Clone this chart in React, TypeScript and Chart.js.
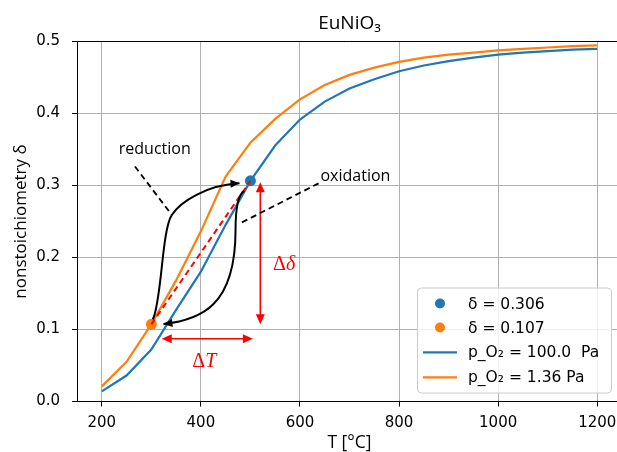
import React, { useEffect, useRef } from "react";
import { Chart, registerables } from "chart.js";

Chart.register(...registerables);

// ---- data ----
const temperatures = [200, 250, 300, 350, 400, 450, 500, 550, 600, 650, 700, 750, 800, 850, 900, 950, 1000, 1050, 1100, 1150, 1200];
const deltaP100 = [0.014, 0.036, 0.072, 0.127, 0.180, 0.245, 0.306, 0.355, 0.391, 0.416, 0.434, 0.447, 0.458, 0.466, 0.472, 0.477, 0.481, 0.484, 0.486, 0.488, 0.489];
const deltaP136 = [0.021, 0.055, 0.107, 0.168, 0.236, 0.312, 0.359, 0.392, 0.419, 0.439, 0.453, 0.463, 0.471, 0.477, 0.481, 0.484, 0.487, 0.489, 0.491, 0.493, 0.494];
const markedT = [500, 300];
const markedDelta = [0.306, 0.107];
const markedLabels = ["δ = 0.306", "δ = 0.107"];
const lineLabels = ["p_O₂ = 100.0  Pa", "p_O₂ = 1.36 Pa"];
const xTicks = [200, 400, 600, 800, 1000, 1200];
const yTicks = [0, 0.1, 0.2, 0.3, 0.4, 0.5];

const BLUE = "#1f77b4";
const ORANGE = "#ff7f0e";
const RED = "#ff0000";
const FONT = "DejaVu Sans";
const LABEL_FONT = "Open Sans";

// annotation geometry in data units (T, delta)
const reductionStart: [number, number] = [303, 0.114];
const reductionSegs: [number, number][][] = [
  [[321, 0.1385], [321, 0.238], [341.4, 0.2587]],
  [[358.2, 0.2772], [412, 0.3003], [478, 0.3026]],
];
const oxidationStart: [number, number] = [487.5, 0.292];
const oxidationSegs: [number, number][][] = [
  [[473, 0.286], [470, 0.261], [470, 0.238]],
  [[470, 0.1315], [398.6, 0.113], [324.5, 0.1075]],
];
const reductionPointer: [number, number][] = [[267, 0.326], [341, 0.259]];
const oxidationPointer: [number, number][] = [[637.6, 0.3026], [476, 0.246]];

function head(ctx: CanvasRenderingContext2D, fx: number, fy: number, tx: number, ty: number, len: number, half: number, color: string) {
  const a = Math.atan2(ty - fy, tx - fx);
  ctx.save();
  ctx.fillStyle = color;
  ctx.beginPath();
  ctx.moveTo(tx, ty);
  ctx.lineTo(tx - len * Math.cos(a) + half * Math.sin(a), ty - len * Math.sin(a) - half * Math.cos(a));
  ctx.lineTo(tx - len * Math.cos(a) - half * Math.sin(a), ty - len * Math.sin(a) + half * Math.cos(a));
  ctx.closePath();
  ctx.fill();
  ctx.restore();
}

const annotPlugin = {
  id: "annot",
  afterDatasetsDraw(chart: any) {
    const ctx: CanvasRenderingContext2D = chart.ctx;
    const xs = chart.scales.x;
    const ys = chart.scales.y;
    const P = (p: [number, number]) => [xs.getPixelForValue(p[0]), ys.getPixelForValue(p[1])];
    ctx.save();
    // red dashed line between the two points
    ctx.strokeStyle = RED;
    ctx.lineWidth = 2;
    ctx.setLineDash([6, 4]);
    ctx.beginPath();
    const a = P([markedT[1], markedDelta[1]]);
    const b = P([markedT[0], markedDelta[0]]);
    ctx.moveTo(a[0], a[1]);
    ctx.lineTo(b[0], b[1]);
    ctx.stroke();
    ctx.setLineDash([]);

    // delta arrow (vertical)
    const v1 = P([520, 0.107]);
    const v2 = P([520, 0.304]);
    ctx.lineWidth = 1.6;
    ctx.beginPath();
    ctx.moveTo(v1[0], v1[1] - 8);
    ctx.lineTo(v2[0], v2[1] + 8);
    ctx.stroke();
    head(ctx, v1[0], v1[1] - 20, v1[0], v1[1], 10, 4.5, RED);
    head(ctx, v2[0], v2[1] + 20, v2[0], v2[1], 10, 4.5, RED);

    // T arrow (horizontal)
    const h1 = P([321, 0.087]);
    const h2 = P([505, 0.087]);
    ctx.beginPath();
    ctx.moveTo(h1[0] + 8, h1[1]);
    ctx.lineTo(h2[0] - 8, h2[1]);
    ctx.stroke();
    head(ctx, h1[0] + 20, h1[1], h1[0], h1[1], 10, 4.5, RED);
    head(ctx, h2[0] - 20, h2[1], h2[0], h2[1], 10, 4.5, RED);

    // black curved arrows
    const drawPath = (start: [number, number], segs: [number, number][][]) => {
      ctx.strokeStyle = "#000";
      ctx.lineWidth = 2;
      ctx.beginPath();
      const s = P(start);
      ctx.moveTo(s[0], s[1]);
      for (const seg of segs) {
        const c1 = P(seg[0]);
        const c2 = P(seg[1]);
        const e = P(seg[2]);
        ctx.bezierCurveTo(c1[0], c1[1], c2[0], c2[1], e[0], e[1]);
      }
      ctx.stroke();
      const last = segs[segs.length - 1];
      const c2 = P(last[1]);
      const e = P(last[2]);
      head(ctx, c2[0], c2[1], e[0], e[1], 9, 4, "#000");
    };
    drawPath(reductionStart, reductionSegs);
    drawPath(oxidationStart, oxidationSegs);

    // dashed pointers
    ctx.setLineDash([6, 4]);
    ctx.lineWidth = 1.8;
    for (const ptr of [reductionPointer, oxidationPointer]) {
      const p1 = P(ptr[0]);
      const p2 = P(ptr[1]);
      ctx.beginPath();
      ctx.moveTo(p1[0], p1[1]);
      ctx.lineTo(p2[0], p2[1]);
      ctx.stroke();
    }
    ctx.setLineDash([]);

    // annotation texts
    ctx.fillStyle = "#000";
    ctx.font = `16px '${LABEL_FONT}'`;
    ctx.textAlign = "center";
    ctx.textBaseline = "middle";
    const r = P([307, 0.35]);
    ctx.fillText("reduction", r[0], r[1]);
    const o = P([712, 0.3127]);
    ctx.fillText("oxidation", o[0], o[1]);

    // Δδ and ΔT
    const mathText = (pos: [number, number], sym: string) => {
      const c = P(pos);
      ctx.fillStyle = RED;
      ctx.textBaseline = "alphabetic";
      ctx.textAlign = "left";
      ctx.font = "20px 'Liberation Serif'";
      const w1 = ctx.measureText("Δ").width;
      ctx.font = "italic 20px 'Liberation Serif'";
      const w2 = ctx.measureText(sym).width;
      const x0 = c[0] - (w1 + w2) / 2;
      const y0 = c[1] + 7;
      ctx.font = "20px 'Liberation Serif'";
      ctx.fillText("Δ", x0, y0);
      ctx.font = "italic 20px 'Liberation Serif'";
      ctx.fillText(sym, x0 + w1, y0);
    };
    mathText([568, 0.192], "δ");
    mathText([407, 0.0576], "T");
    ctx.restore();
  },
  afterDraw(chart: any) {
    const ctx: CanvasRenderingContext2D = chart.ctx;
    const area = chart.chartArea;
    ctx.save();
    // top spine
    ctx.strokeStyle = "#000";
    ctx.lineWidth = 1;
    ctx.beginPath();
    ctx.moveTo(area.left, Math.round(area.top) + 0.5);
    ctx.lineTo(area.right, Math.round(area.top) + 0.5);
    ctx.stroke();

    // title and axis titles
    ctx.fillStyle = "#000";
    ctx.textAlign = "center";
    ctx.textBaseline = "middle";
    ctx.font = `19px '${LABEL_FONT}'`;
    const cx = (area.left + area.right) / 2;
    ctx.fillText("EuNiO₃", cx, 24);
    ctx.font = `17.5px '${LABEL_FONT}'`;
    ctx.fillText("T [°C]", cx, 443);
    ctx.save();
    ctx.translate(21, 221.5);
    ctx.rotate(-Math.PI / 2);
    ctx.font = `17px '${LABEL_FONT}'`;
    ctx.fillText("nonstoichiometry δ", 0, 0);
    ctx.restore();

    // legend
    const lx = 417.5, ly = 288, lw = 194, lh = 105;
    ctx.beginPath();
    ctx.roundRect(lx, ly, lw, lh, 4);
    ctx.fillStyle = "rgba(255,255,255,0.8)";
    ctx.fill();
    ctx.strokeStyle = "#cccccc";
    ctx.lineWidth = 1;
    ctx.stroke();
    const rows = [303.5, 327.5, 352.3, 377.3];
    const colors = [BLUE, ORANGE];
    ctx.font = `15.5px '${FONT}'`;
    ctx.textAlign = "left";
    ctx.textBaseline = "middle";
    for (let i = 0; i < 2; i++) {
      ctx.fillStyle = colors[i];
      ctx.beginPath();
      ctx.arc(440, rows[i], 5, 0, Math.PI * 2);
      ctx.fill();
      ctx.fillStyle = "#000";
      ctx.fillText(markedLabels[i], 468, rows[i] + 1);
    }
    for (let i = 0; i < 2; i++) {
      ctx.strokeStyle = colors[i];
      ctx.lineWidth = 2.2;
      ctx.beginPath();
      ctx.moveTo(423, rows[i + 2]);
      ctx.lineTo(457, rows[i + 2]);
      ctx.stroke();
      ctx.fillStyle = "#000";
      ctx.fillText(lineLabels[i], 468, rows[i + 2] + 1);
    }
    ctx.restore();
  },
};

export default function App() {
  const ref = useRef<HTMLCanvasElement>(null);
  useEffect(() => {
    if (!ref.current) return;
    const chart = new Chart(ref.current, {
      type: "line",
      data: {
        datasets: [
          {
            label: markedLabels[0],
            data: [{ x: markedT[0], y: markedDelta[0] }],
            showLine: false,
            pointRadius: 5.5,
            pointBackgroundColor: BLUE,
            pointBorderWidth: 0,
            order: 0,
          },
          {
            label: markedLabels[1],
            data: [{ x: markedT[1], y: markedDelta[1] }],
            showLine: false,
            pointRadius: 5.5,
            pointBackgroundColor: ORANGE,
            pointBorderWidth: 0,
            order: 0,
          },
          {
            label: lineLabels[1],
            data: temperatures.map((t, i) => ({ x: t, y: deltaP136[i] })),
            borderColor: ORANGE,
            borderWidth: 2.2,
            pointRadius: 0,
            tension: 0,
            order: 1,
          },
          {
            label: lineLabels[0],
            data: temperatures.map((t, i) => ({ x: t, y: deltaP100[i] })),
            borderColor: BLUE,
            borderWidth: 2.2,
            pointRadius: 0,
            tension: 0,
            order: 2,
          },
        ],
      },
      options: {
        animation: false,
        responsive: false,
        devicePixelRatio: 1,
        layout: { padding: { left: 0, right: 8, top: 41, bottom: 0 } },
        plugins: { legend: { display: false }, title: { display: false }, tooltip: { enabled: false } },
        scales: {
          x: {
            type: "linear",
            min: 150,
            max: 1250,
            afterBuildTicks: (s: any) => { s.ticks = xTicks.map((v) => ({ value: v })); },
            afterFit: (s: any) => { s.height = 50.5; },
            ticks: { color: "#000", font: { family: FONT, size: 15 }, padding: 8, maxRotation: 0, autoSkip: false, callback: (v: any) => String(v) },
            grid: { color: "#b0b0b0", lineWidth: 1, tickColor: "#000", tickLength: 5 },
            border: { color: "#000", width: 1 },
          },
          y: {
            type: "linear",
            min: 0,
            max: 0.5,
            afterBuildTicks: (s: any) => { s.ticks = yTicks.map((v) => ({ value: v })); },
            afterFit: (s: any) => { s.width = 77; },
            ticks: { color: "#000", font: { family: FONT, size: 15 }, padding: 12, callback: (v: any) => Number(v).toFixed(1) },
            grid: { color: "#b0b0b0", lineWidth: 1, tickColor: "#000", tickLength: 5 },
            border: { color: "#000", width: 1 },
          },
        },
      },
      plugins: [annotPlugin],
    } as any);
    return () => chart.destroy();
  }, []);
  return (
    <div style={{ position: "fixed", left: 0, top: 0, width: 617, height: 452, overflow: "hidden", background: "#fff" }}>
      <canvas ref={ref} width={630} height={452} style={{ display: "block", width: 630, height: 452 }} />
    </div>
  );
}
